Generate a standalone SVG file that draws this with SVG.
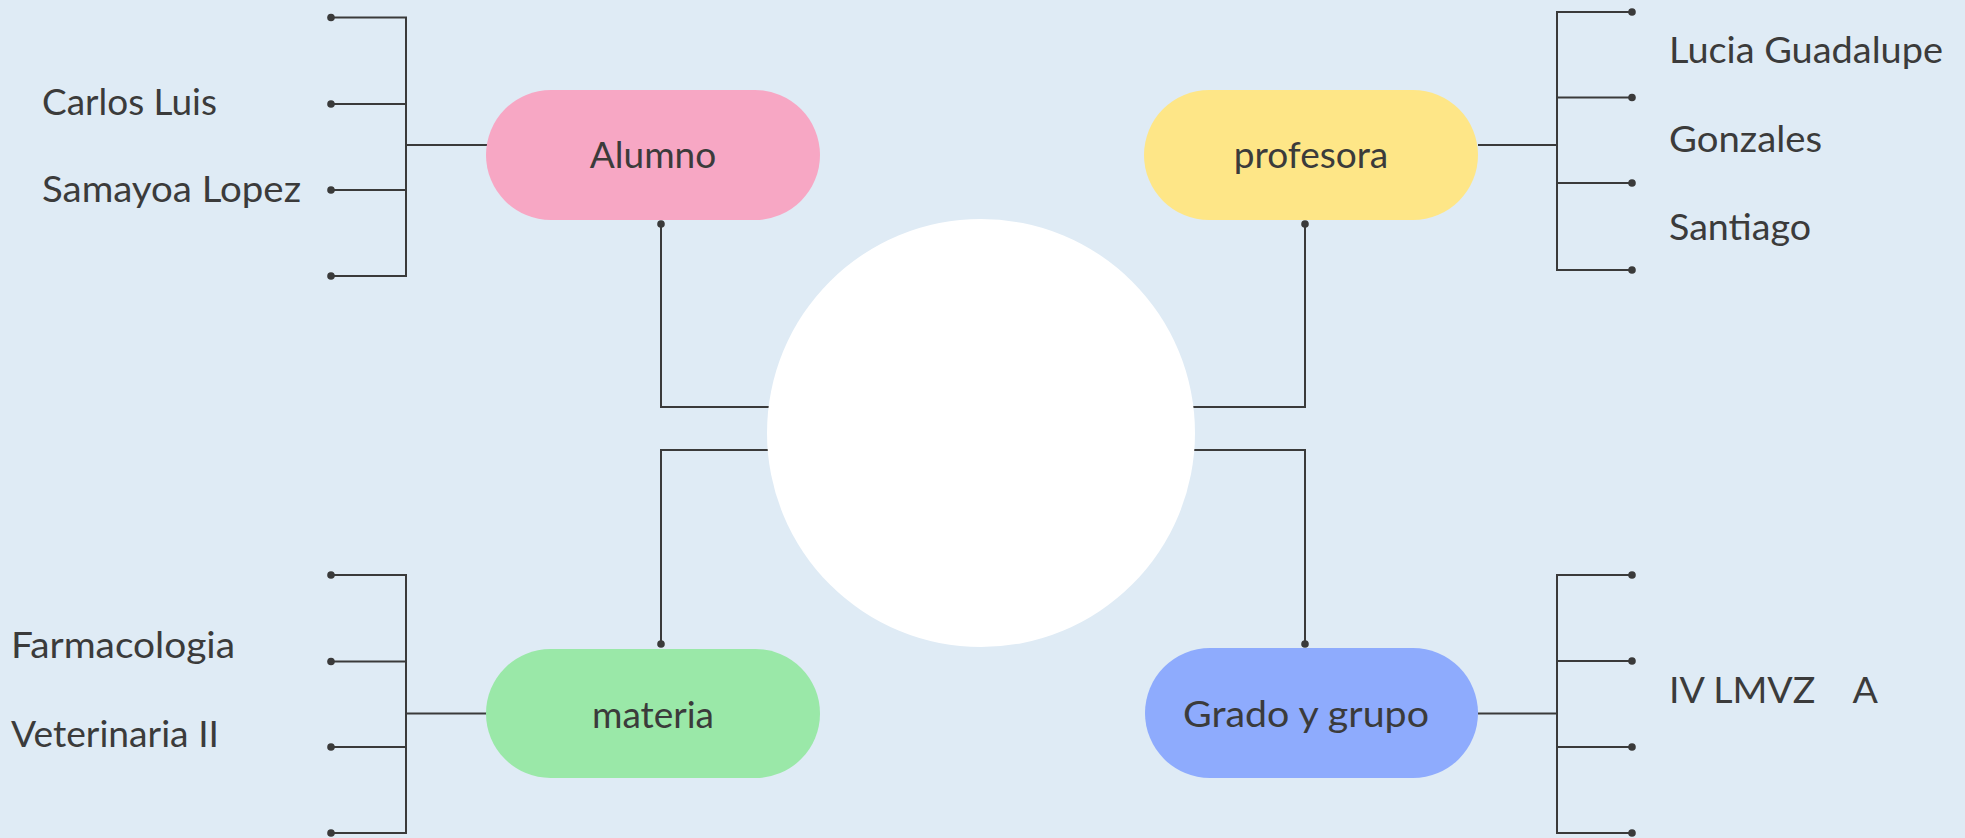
<svg xmlns="http://www.w3.org/2000/svg" width="1965" height="838" viewBox="0 0 1965 838">
<style>
.bg{fill:#dfebf5}
.ln{fill:none;stroke:#3a3a3a;stroke-width:2}
.dot{fill:#3a3a3a}
.t{font-family:Lato,"Noto Sans","Liberation Sans",sans-serif;font-size:37px;fill:#3b3b3b}
.c{text-anchor:middle}
</style>
<rect class="bg" x="0" y="0" width="1965" height="838"/>
<g id="connectors">
  <path class="ln" d="M331 17.5H406V276H331M331 104H406M331 190H406M406 145H487"/>
  <path class="ln" d="M661 224V407H775"/>
  <path class="ln" d="M1632 12H1557V270H1632M1632 97.5H1557M1632 183H1557M1478 145H1557"/>
  <path class="ln" d="M1305 224V407H1188"/>
  <path class="ln" d="M331 575H406V833H331M331 661.5H406M331 747H406M406 713.5H487"/>
  <path class="ln" d="M661 644V450H775"/>
  <path class="ln" d="M1632 575H1557V833H1632M1632 661H1557M1632 747H1557M1478 713.5H1557"/>
  <path class="ln" d="M1305 644V450H1188"/>
  <g>
    <circle class="dot" cx="331" cy="17.5" r="3.8"/>
    <circle class="dot" cx="331" cy="104" r="3.8"/>
    <circle class="dot" cx="331" cy="190" r="3.8"/>
    <circle class="dot" cx="331" cy="276" r="3.8"/>
    <circle class="dot" cx="1632" cy="12" r="3.8"/>
    <circle class="dot" cx="1632" cy="97.5" r="3.8"/>
    <circle class="dot" cx="1632" cy="183" r="3.8"/>
    <circle class="dot" cx="1632" cy="270" r="3.8"/>
    <circle class="dot" cx="331" cy="575" r="3.8"/>
    <circle class="dot" cx="331" cy="661.5" r="3.8"/>
    <circle class="dot" cx="331" cy="747" r="3.8"/>
    <circle class="dot" cx="331" cy="833" r="3.8"/>
    <circle class="dot" cx="1632" cy="575" r="3.8"/>
    <circle class="dot" cx="1632" cy="661" r="3.8"/>
    <circle class="dot" cx="1632" cy="747" r="3.8"/>
    <circle class="dot" cx="1632" cy="833" r="3.8"/>
    <circle class="dot" cx="661" cy="224" r="3.8"/>
    <circle class="dot" cx="1305" cy="224" r="3.8"/>
    <circle class="dot" cx="661" cy="644" r="3.8"/>
    <circle class="dot" cx="1305" cy="644" r="3.8"/>
  </g>
</g>
<g id="center">
  <circle cx="981" cy="433" r="214" fill="#ffffff"/>
</g>
<g id="alumno">
  <rect x="486" y="90" width="334" height="130" rx="65" ry="65" fill="#f7a7c4"/>
  <text class="t c" x="653" y="168">Alumno</text>
</g>
<g id="alumno-text">
  <text class="t" x="42" y="115" textLength="175" lengthAdjust="spacingAndGlyphs">Carlos Luis</text>
  <text class="t" x="42" y="202" textLength="259" lengthAdjust="spacingAndGlyphs">Samayoa Lopez</text>
</g>
<g id="profesora">
  <rect x="1144" y="90" width="334" height="130" rx="65" ry="65" fill="#fee687"/>
  <text class="t c" x="1311" y="168">profesora</text>
</g>
<g id="profesora-text">
  <text class="t" x="1669" y="63" textLength="274" lengthAdjust="spacingAndGlyphs">Lucia Guadalupe</text>
  <text class="t" x="1669" y="152" textLength="153" lengthAdjust="spacingAndGlyphs">Gonzales</text>
  <text class="t" x="1669" y="240" textLength="142" lengthAdjust="spacingAndGlyphs">Santiago</text>
</g>
<g id="materia">
  <rect x="486" y="649" width="334" height="129" rx="64.5" ry="64.5" fill="#9ae8a8"/>
  <text class="t c" x="653" y="728">materia</text>
</g>
<g id="materia-text">
  <text class="t" x="11" y="658" textLength="224" lengthAdjust="spacingAndGlyphs">Farmacologia</text>
  <text class="t" x="11" y="747" textLength="208" lengthAdjust="spacingAndGlyphs">Veterinaria II</text>
</g>
<g id="grado">
  <rect x="1145" y="648" width="333" height="130" rx="65" ry="65" fill="#8eabfd"/>
  <text class="t" x="1183" y="727" textLength="246" lengthAdjust="spacingAndGlyphs">Grado y grupo</text>
</g>
<g id="grado-text">
  <text class="t" x="1669" y="703" xml:space="preserve" textLength="209" lengthAdjust="spacingAndGlyphs">IV LMVZ    A</text>
</g>
</svg>
